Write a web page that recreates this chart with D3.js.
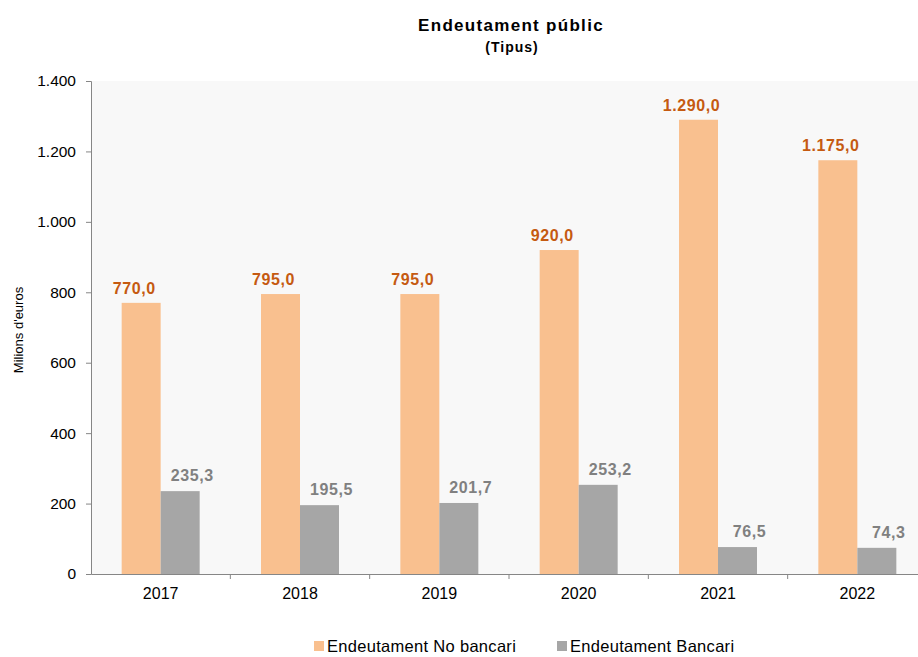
<!DOCTYPE html>
<html>
<head>
<meta charset="utf-8">
<script src="https://cdn.jsdelivr.net/npm/d3@7"></script>
<style>
  body { margin: 0; background: #fff; }
  text { font-family: "Liberation Sans", Arial, sans-serif; }
</style>
</head>
<body>
<div id="chart"></div>
<script>
var years = ["2017", "2018", "2019", "2020", "2021", "2022"];
var noBancari = [770.0, 795.0, 795.0, 920.0, 1290.0, 1175.0];
var bancari = [235.3, 195.5, 201.7, 253.2, 76.5, 74.3];
var seriesNames = ["Endeutament No bancari", "Endeutament Bancari"];
var yTicks = [0, 200, 400, 600, 800, 1000, 1200, 1400];

var width = 918, height = 657;
var margin = { left: 91, top: 81, bottom: 83 };
var plotRight = 927;
var fmt = v => d3.format(",.1f")(v).replace(/,/g, "#").replace(".", ",").replace(/#/g, ".");
var fmtTick = v => d3.format(",")(v).replace(/,/g, ".");

var svg = d3.select("#chart").append("svg")
    .attr("width", width)
    .attr("height", height);

var x = d3.scaleBand().domain(years).range([margin.left, plotRight]);
var y = d3.scaleLinear().domain([0, 1400]).range([height - margin.bottom, margin.top]);

// plot background
svg.append("rect")
    .attr("x", margin.left)
    .attr("y", y(1400))
    .attr("width", plotRight - margin.left)
    .attr("height", y(0) - y(1400))
    .attr("fill", "#f8f8f8");

var barW = 39;
var bars = svg.append("g");
years.forEach(function (yr, i) {
    var cx = x(yr) + x.bandwidth() / 2;
    bars.append("rect")
        .attr("x", cx - barW)
        .attr("y", y(noBancari[i]))
        .attr("width", barW)
        .attr("height", y(0) - y(noBancari[i]))
        .attr("fill", "#f9c08f");
    bars.append("rect")
        .attr("x", cx)
        .attr("y", y(bancari[i]))
        .attr("width", barW)
        .attr("height", y(0) - y(bancari[i]))
        .attr("fill", "#a6a6a6");
    bars.append("text")
        .attr("x", cx - barW / 2 - 7)
        .attr("y", y(noBancari[i]) - 9)
        .attr("text-anchor", "middle")
        .attr("font-size", 16)
        .attr("letter-spacing", 0.6)
        .attr("font-weight", "bold")
        .attr("fill", "#c55a11")
        .text(fmt(noBancari[i]));
    bars.append("text")
        .attr("x", cx + barW / 2 + 12)
        .attr("y", y(bancari[i]) - 10)
        .attr("text-anchor", "middle")
        .attr("font-size", 16)
        .attr("letter-spacing", 0.6)
        .attr("font-weight", "bold")
        .attr("fill", "#808080")
        .text(fmt(bancari[i]));
});

// y axis
var yAxis = svg.append("g")
    .attr("transform", `translate(${margin.left},0)`)
    .call(d3.axisLeft(y).tickValues(yTicks).tickFormat(fmtTick).tickSize(5).tickPadding(10));
yAxis.select(".domain").attr("stroke", "#868686");
yAxis.selectAll(".tick line").attr("stroke", "#868686");
yAxis.selectAll(".tick text").attr("font-size", 15.5).attr("fill", "#000")
    .attr("font-family", "Liberation Sans, Arial, sans-serif");

// x axis
var xAxis = svg.append("g")
    .attr("transform", `translate(0,${y(0)})`)
    .call(d3.axisBottom(x).tickSize(0).tickPadding(14));
xAxis.select(".domain").attr("stroke", "#868686");
xAxis.selectAll(".tick text").attr("font-size", 16).attr("fill", "#000")
    .attr("font-family", "Liberation Sans, Arial, sans-serif");
xAxis.selectAll(".sep")
    .data(years.slice(1))
    .enter().append("line")
    .attr("x1", d => x(d)).attr("x2", d => x(d))
    .attr("y1", 0).attr("y2", 5)
    .attr("stroke", "#868686");

// titles
svg.append("text")
    .attr("x", 511).attr("y", 31)
    .attr("text-anchor", "middle")
    .attr("font-size", 17).attr("font-weight", "bold")
    .attr("letter-spacing", 1.3)
    .text("Endeutament públic");
svg.append("text")
    .attr("x", 512).attr("y", 52)
    .attr("text-anchor", "middle")
    .attr("font-size", 14).attr("font-weight", "bold")
    .attr("letter-spacing", 1)
    .text("(Tipus)");

svg.append("text")
    .attr("transform", "translate(23,330) rotate(-90)")
    .attr("text-anchor", "middle")
    .attr("font-size", 13)
    .text("Milions d'euros");

// legend
var legend = svg.append("g");
var legendX = [314, 557];
var legendColors = ["#f9c08f", "#a6a6a6"];
seriesNames.forEach(function (name, i) {
    legend.append("rect")
        .attr("x", legendX[i]).attr("y", 641)
        .attr("width", 10).attr("height", 10)
        .attr("fill", legendColors[i]);
    legend.append("text")
        .attr("x", legendX[i] + 13).attr("y", 652)
        .attr("font-size", 16.5)
        .attr("letter-spacing", 0.3)
        .text(name);
});
</script>
</body>
</html>
